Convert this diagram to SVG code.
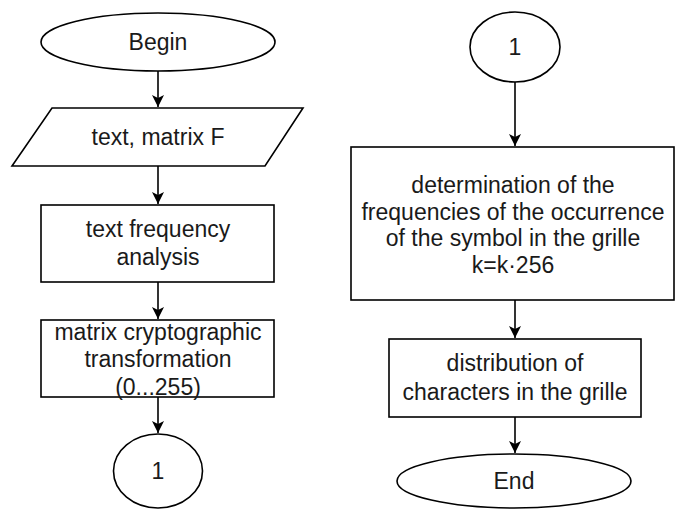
<svg xmlns="http://www.w3.org/2000/svg" width="676" height="509" viewBox="0 0 676 509">
<style>
.s{fill:#fff;stroke:#000;stroke-width:1.6}
.t{font-family:"Liberation Sans",Arial,Helvetica,sans-serif;font-size:23px;fill:#1a1a1a;text-anchor:middle}
.c{stroke:#000;stroke-width:1.6;fill:none;marker-end:url(#a)}
</style>
<defs>
<marker id="a" markerUnits="userSpaceOnUse" markerWidth="13" markerHeight="12" refX="12" refY="6" orient="auto" viewBox="0 0 12 12">
<path d="M0,0 L12,6 L0,12 L3,6 Z" fill="#000"/>
</marker>
</defs>
<rect width="676" height="509" fill="#fff"/>
<g id="connectors">
<line class="c" x1="158" y1="71" x2="158" y2="107"/>
<line class="c" x1="158" y1="166" x2="158" y2="204"/>
<line class="c" x1="158" y1="282" x2="158" y2="319"/>
<line class="c" x1="158" y1="397" x2="158" y2="433"/>
<line class="c" x1="515" y1="82" x2="515" y2="146"/>
<line class="c" x1="515" y1="300" x2="515" y2="338"/>
<line class="c" x1="515" y1="417" x2="515" y2="453"/>
</g>
<g id="begin">
<ellipse class="s" cx="158" cy="42" rx="117" ry="29"/>
<text class="t" x="158" y="50">Begin</text>
</g>
<g id="input">
<polygon class="s" points="52,108 303,108 265,166 12,166"/>
<text class="t" x="158" y="145">text, matrix F</text>
</g>
<g id="freq">
<rect class="s" x="41" y="205" width="233" height="77"/>
<text class="t" x="158" y="237">text frequency</text>
<text class="t" x="158" y="265">analysis</text>
</g>
<g id="transform">
<rect class="s" x="41" y="320" width="233" height="77"/>
<text class="t" x="158" y="340">matrix cryptographic</text>
<text class="t" x="158" y="367">transformation</text>
<text class="t" x="158" y="395">(0...255)</text>
</g>
<g id="conn1a">
<ellipse class="s" cx="158" cy="471" rx="44.5" ry="37"/>
<text class="t" x="158" y="479">1</text>
</g>
<g id="conn1b">
<ellipse class="s" cx="515" cy="47" rx="45" ry="35"/>
<text class="t" x="515" y="55">1</text>
</g>
<g id="determination">
<rect class="s" x="351" y="147" width="323" height="153"/>
<text class="t" x="513" y="193">determination of the</text>
<text class="t" x="513" y="220">frequencies of the occurrence</text>
<text class="t" x="513" y="246">of the symbol in the grille</text>
<text class="t" x="513" y="273">k=k·256</text>
</g>
<g id="distribution">
<rect class="s" x="389" y="339" width="252" height="78"/>
<text class="t" x="515" y="371">distribution of</text>
<text class="t" x="515" y="400">characters in the grille</text>
</g>
<g id="end">
<ellipse class="s" cx="514" cy="481" rx="117" ry="27"/>
<text class="t" x="514" y="489">End</text>
</g>
</svg>
